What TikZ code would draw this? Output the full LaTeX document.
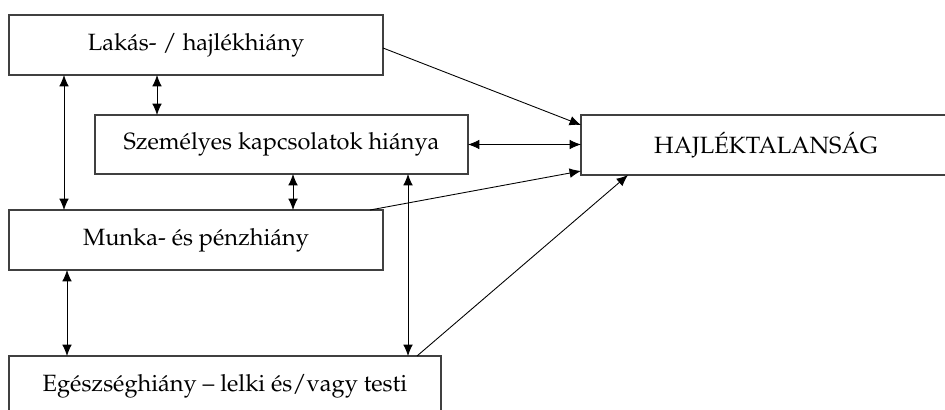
\documentclass[tikz,border=0pt]{standalone}
\usepackage[T1]{fontenc}
\usepackage{mathpazo}
\usepackage{tikz}
\usetikzlibrary{arrows.meta,positioning,calc}

\begin{document}
\begin{tikzpicture}[>={Latex[length=6.5pt,width=5.5pt]},
    factor/.style={draw=black!75, line width=0.6pt, rectangle, inner sep=0pt, outer sep=0pt, minimum height=1.2cm, align=center, font=\fontsize{13.4}{15}\selectfont},
    link/.style={<->, line width=0.5pt},
    cause/.style={->, line width=0.5pt}]
    \useasboundingbox (0,0) rectangle (18.9,-8.2);
    % Nodes
    \node[factor, minimum width=7.48cm] (lakas) at (3.92,-0.90) {Lakás- / hajlékhiány};
    \node[factor, minimum width=7.46cm, minimum height=1.18cm] (szemely) at (5.63,-2.89) {Személyes kapcsolatok hiánya};
    \node[factor, minimum width=7.40cm] (hajlek) at (15.32,-2.90) {HAJLÉKTALANSÁG};
    \node[factor, minimum width=7.48cm] (munka) at (3.92,-4.80) {Munka- és pénzhiány};
    \node[factor, minimum width=8.64cm] (egeszseg) at (4.50,-7.72) {Egészséghiány -- lelki és/vagy testi};
    % Arrows between factors
    \draw[link] ([xshift=1.10cm]lakas.south west) -- ([xshift=1.10cm]lakas.south west |- munka.north);
    \draw[link] ([xshift=2.96cm]lakas.south west) -- ([xshift=2.96cm]lakas.south west |- szemely.north);
    \draw[link] ([xshift=3.96cm]szemely.south west) -- ([xshift=3.96cm]szemely.south west |- munka.north);
    \draw[link] ([xshift=6.26cm]szemely.south west) -- ([xshift=6.26cm]szemely.south west |- egeszseg.north);
    \draw[link] ([xshift=1.16cm]munka.south west) -- ([xshift=1.16cm]munka.south west |- egeszseg.north);
    \draw[link] (szemely.east) -- (szemely.east -| hajlek.west);
    % Arrows to homelessness
    \draw[cause] ([yshift=-0.06cm]lakas.east) -- ([yshift=-0.20cm]hajlek.north west);
    \draw[cause] ([xshift=-0.26cm]munka.north east) -- ([yshift=0.08cm]hajlek.south west);
    \draw[cause] ([xshift=-0.48cm]egeszseg.north east) -- ([xshift=0.94cm]hajlek.south west);
\end{tikzpicture}
\end{document}
